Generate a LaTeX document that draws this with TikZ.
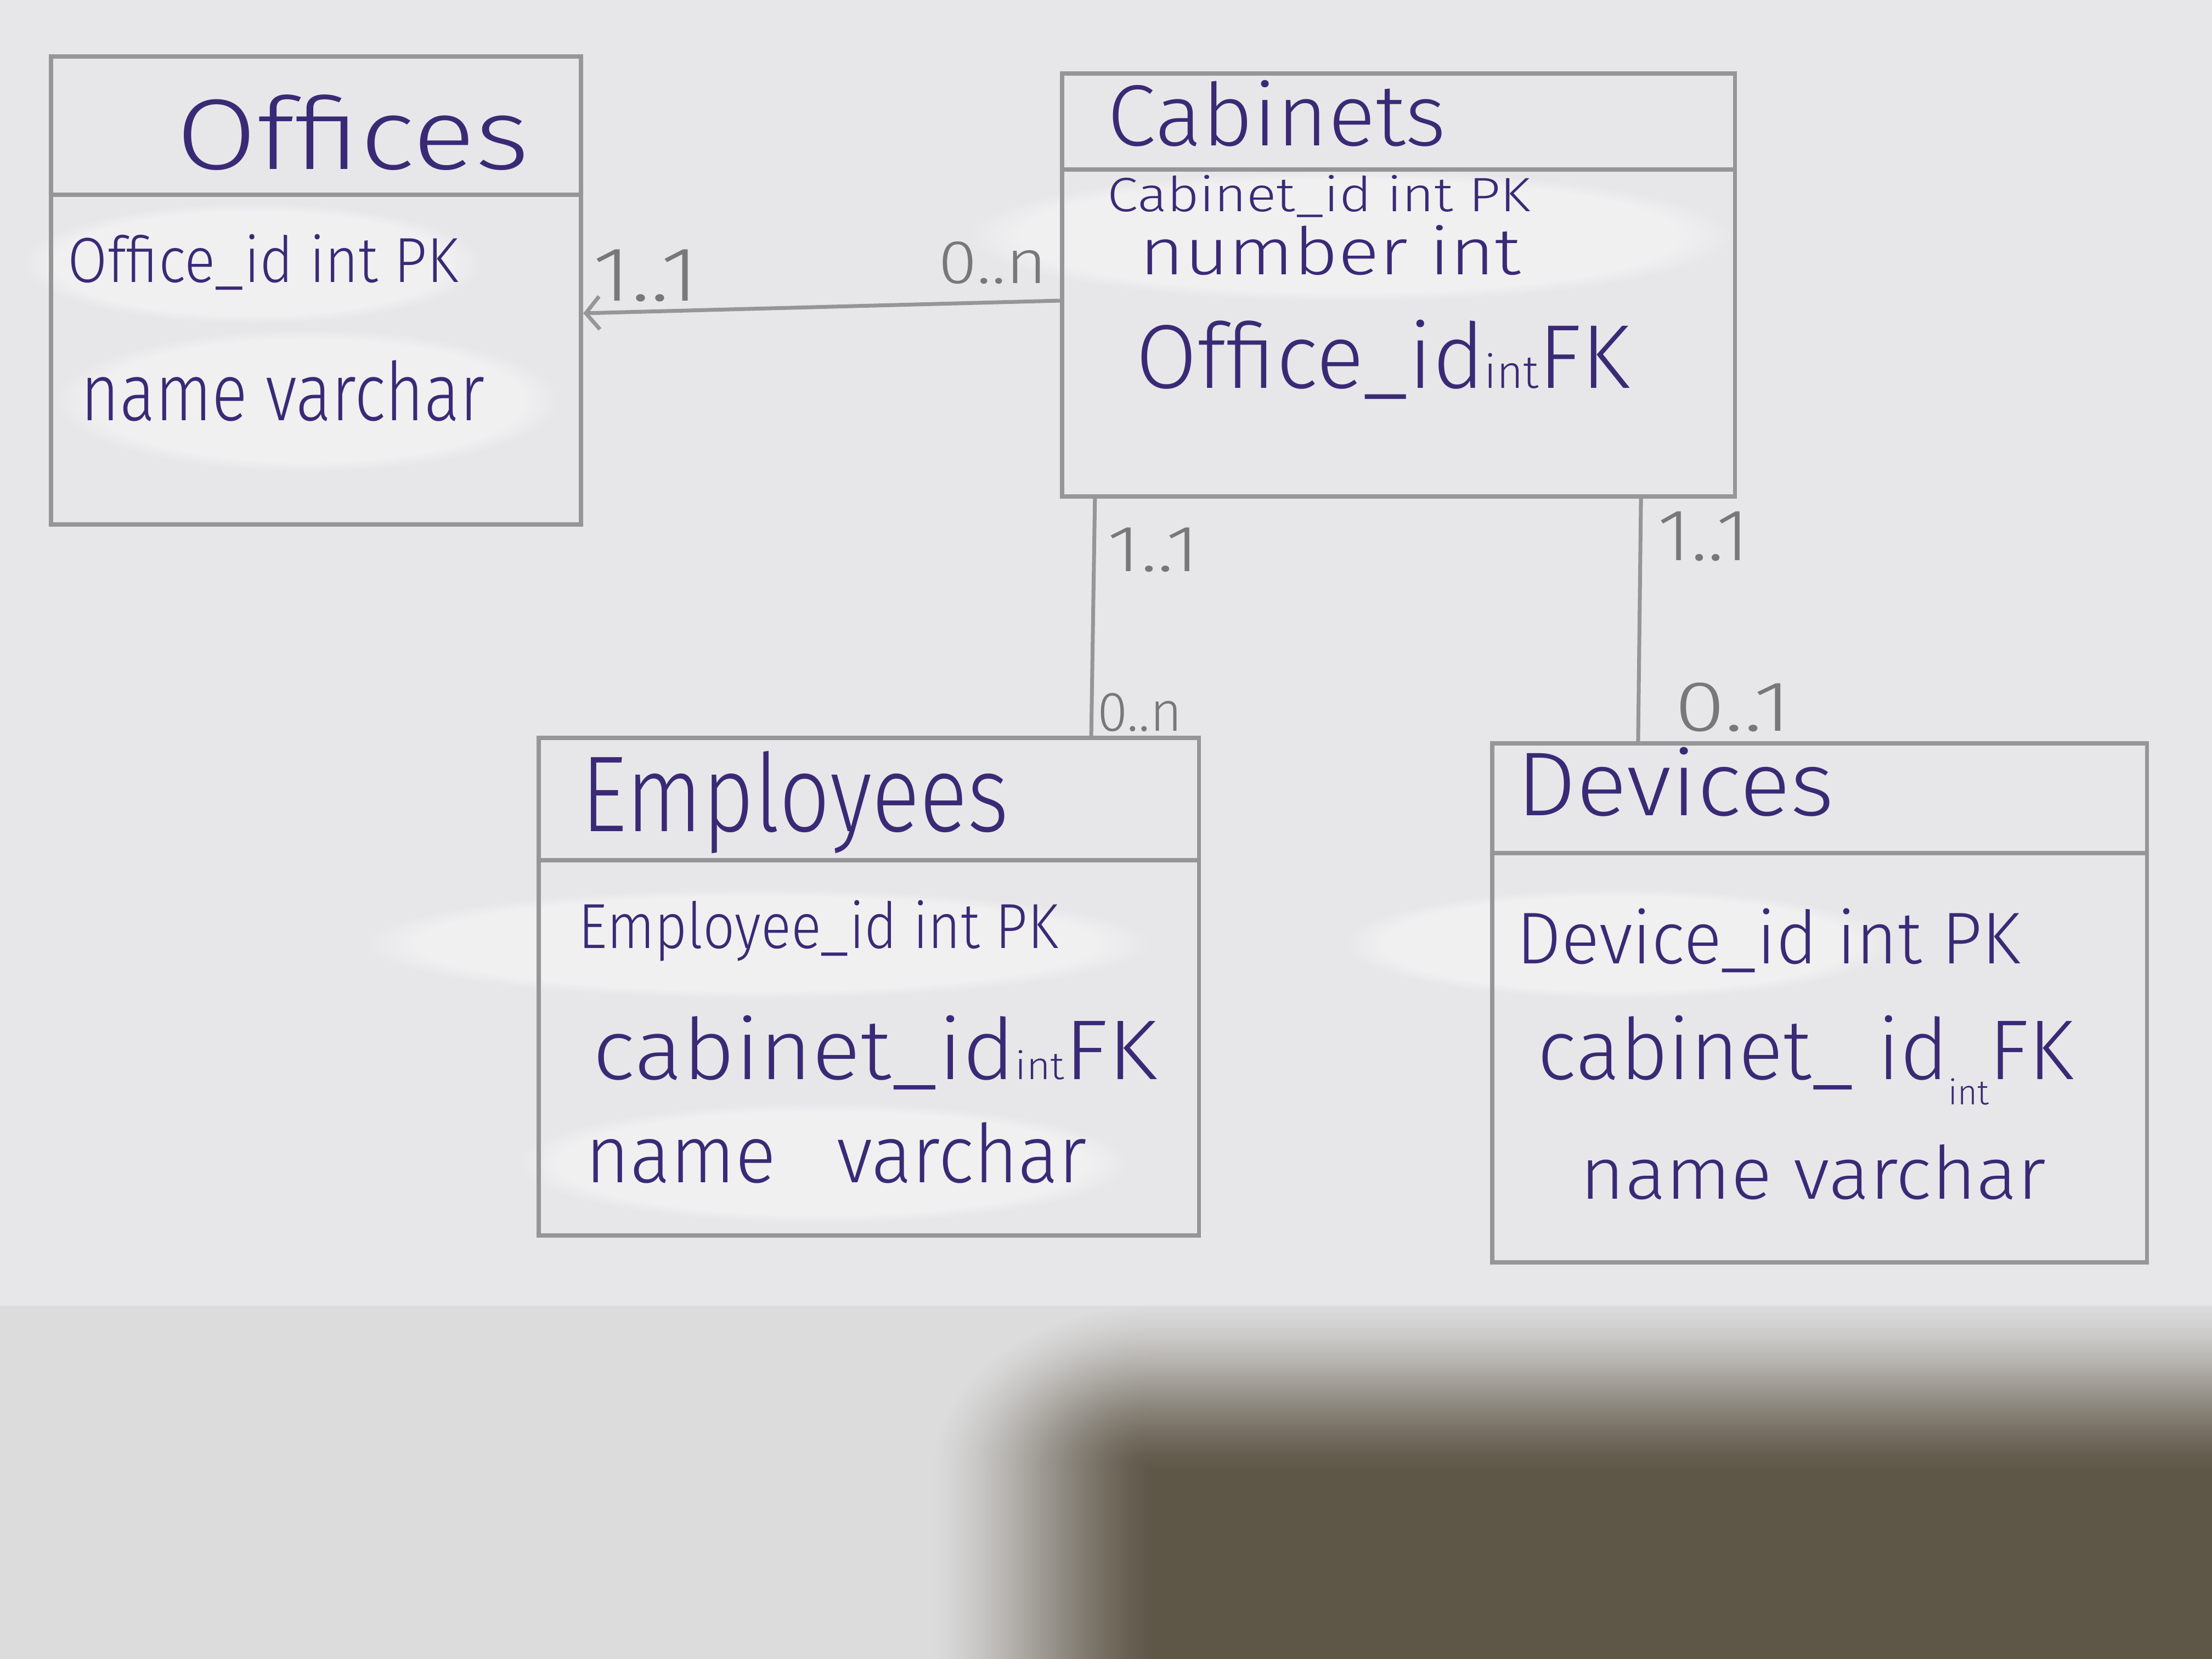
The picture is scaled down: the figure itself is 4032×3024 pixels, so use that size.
\documentclass[tikz,border=0pt]{standalone}
\usepackage{fontspec}
\setmainfont{Fira Sans}[UprightFont=* Light]
\usepackage{graphicx}
\usetikzlibrary{arrows.meta,fadings}

\definecolor{paper}{RGB}{231,231,233}
\definecolor{paperlow}{RGB}{220,220,221}
\definecolor{ink}{RGB}{58,42,118}
\definecolor{pencil}{RGB}{150,150,152}
\definecolor{shadebody}{RGB}{94,86,71}

% soft S-shaped ramps between the paper and the shadow
% (the part of a shading between 25bp and 75bp spans the shaded path)
\pgfdeclareverticalshading{softtop}{100bp}{%
  color(0bp)=(shadebody); color(25bp)=(shadebody);
  color(30bp)=(shadebody!93.6!paperlow); color(35bp)=(shadebody!84.8!paperlow);
  color(40bp)=(shadebody!74.2!paperlow); color(45bp)=(shadebody!62.4!paperlow);
  color(50bp)=(shadebody!50!paperlow);   color(55bp)=(shadebody!37.6!paperlow);
  color(60bp)=(shadebody!25.8!paperlow); color(65bp)=(shadebody!15.2!paperlow);
  color(70bp)=(shadebody!6.4!paperlow);  color(75bp)=(paperlow); color(100bp)=(paperlow)}
\pgfdeclarehorizontalshading{softleft}{100bp}{%
  color(0bp)=(paperlow); color(25bp)=(paperlow);
  color(30bp)=(shadebody!6.4!paperlow);  color(35bp)=(shadebody!15.2!paperlow);
  color(40bp)=(shadebody!25.8!paperlow); color(45bp)=(shadebody!37.6!paperlow);
  color(50bp)=(shadebody!50!paperlow);   color(55bp)=(shadebody!62.4!paperlow);
  color(60bp)=(shadebody!74.2!paperlow); color(65bp)=(shadebody!84.8!paperlow);
  color(70bp)=(shadebody!93.6!paperlow); color(75bp)=(shadebody); color(100bp)=(shadebody)}
\pgfdeclareradialshading{softcorner}{\pgfpoint{0bp}{0bp}}{%
  color(0bp)=(shadebody);
  color(2.5bp)=(shadebody!93.6!paperlow);  color(5bp)=(shadebody!84.8!paperlow);
  color(7.5bp)=(shadebody!74.2!paperlow);  color(10bp)=(shadebody!62.4!paperlow);
  color(12.5bp)=(shadebody!50!paperlow);   color(15bp)=(shadebody!37.6!paperlow);
  color(17.5bp)=(shadebody!25.8!paperlow); color(20bp)=(shadebody!15.2!paperlow);
  color(22.5bp)=(shadebody!6.4!paperlow);  color(25bp)=(paperlow); color(50bp)=(paperlow)}

% text at a given size, squeezed to a given width
\newcommand\hw[3]{\fontsize{#1}{#1}\selectfont\resizebox{#2}{\height}{#3}}
% small "int" written between words
\newcommand\minorint[1]{{\fontsize{#1}{#1}\selectfont int}}

\begin{document}
\begin{tikzpicture}[x=0.01cm,y=-0.01cm,
  entity/.style={draw=pencil, line width=2.2pt, rectangle, inner sep=0},
  rule/.style={draw=pencil, line width=2.2pt},
  conn/.style={draw=pencil, line width=2pt},
  inktext/.style={inner sep=0, anchor=base west, text=ink},
  mult/.style={inner sep=0, anchor=base west, text=pencil!80!black},
  whiteout/.style={fill=white, opacity=0.4, path fading=circle with fuzzy edge 15 percent}]

% paper
\fill[paper] (0,0) rectangle (4032,3024);
\useasboundingbox (0,0) rectangle (4032,3024);
\fill[paperlow] (0,2380) rectangle (4032,3024);

% shadow on the lower right, soft at its top and left
\fill[shadebody] (2095,2675) rectangle (4032,3024);
\shade[shading=softtop] (2100,2380) rectangle (4032,2680);
\shade[shading=softleft] (1700,2678) rectangle (2102,3024);
\begin{scope}
  \clip (1700,2380) rectangle (2101,2681);
  \shade[shading=softcorner] (2100,2680) ellipse [x radius=4.0cm, y radius=3.0cm];
\end{scope}

% correction-fluid patches behind the rows
\fill[whiteout] (460,480) ellipse [x radius=4.2cm, y radius=1.1cm];
\fill[whiteout] (560,730) ellipse [x radius=4.6cm, y radius=1.3cm];
\fill[whiteout] (2460,430) ellipse [x radius=7.0cm, y radius=1.2cm];
\fill[whiteout] (1380,1720) ellipse [x radius=7.2cm, y radius=1.0cm];
\fill[whiteout] (1500,2120) ellipse [x radius=5.6cm, y radius=1.1cm];
\fill[whiteout] (2950,1720) ellipse [x radius=5.0cm, y radius=1.0cm];

% entities
\node[entity, minimum width=9.66cm, minimum height=8.53cm] (off) at (576,529.5) {};
\draw[rule] (off.west |- 0,355) -- (off.east |- 0,355);

\node[entity, minimum width=12.26cm, minimum height=7.71cm] (cab) at (2549,519.5) {};
\draw[rule] (cab.west |- 0,309) -- (cab.east |- 0,309);

\node[entity, minimum width=12.03cm, minimum height=9.07cm] (emp) at (1583.5,1798.5) {};
\draw[rule] (emp.west |- 0,1568) -- (emp.east |- 0,1568);

\node[entity, minimum width=11.93cm, minimum height=9.46cm] (dev) at (3316.5,1828) {};
\draw[rule] (dev.west |- 0,1555) -- (dev.east |- 0,1555);

% relationships
\draw[conn, -{Straight Barb[length=0.25cm, width=0.6cm]}]
  ([yshift=-0.285cm]cab.west) -- ([yshift=-0.415cm]off.east);
\draw[conn] ([xshift=0.64cm]cab.south west) -- ([xshift=-2.0cm]emp.north east);
\draw[conn] ([xshift=-1.75cm]cab.south east) -- ([xshift=2.7cm]dev.north west);

% multiplicities
\node[mult] (m-off) at (1080,548) {\hw{40pt}{1.93cm}{1..1}};
\node[mult] (m-cab-off) at (1710,516) {\hw{32pt}{1.98cm}{0..n}};
\node[mult] (m-cab-emp) at (2018,1041) {\hw{34pt}{1.67cm}{1..1}};
\node[mult] (m-emp) at (2000,1332) {\hw{29pt}{1.54cm}{0..n}};
\node[mult] (m-cab-dev) at (3021,1021) {\hw{38pt}{1.67cm}{1..1}};
\node[mult] (m-dev) at (3052,1332) {\hw{37pt}{2.13cm}{0..1}};

% Offices
\node[inktext] (t-off) at (321,308) {\hw{52pt}{6.43cm}{Offices}};
\node[inktext] (a-off-1) at (123,514) {\hw{33pt}{7.12cm}{Office\_id int PK}};
\node[inktext] (a-off-2) at (147,766) {\hw{42pt}{7.35cm}{name varchar}};

% Cabinets
\node[inktext] (t-cab) at (2018,265) {\hw{45pt}{6.17cm}{Cabinets}};
\node[inktext] (a-cab-1) at (2018,385) {\hw{25pt}{7.71cm}{Cabinet\_id int PK}};
\node[inktext] (a-cab-2) at (2077,500) {\hw{34pt}{6.94cm}{number int}};
\node[inktext] (a-cab-3) at (2070,707) {\hw{47pt}{9.0cm}{Office\_id\minorint{24pt}FK}};

% Employees
\node[inktext] (t-emp) at (1059,1515) {\hw{56pt}{7.79cm}{Employees}};
\node[inktext] (a-emp-1) at (1054,1728) {\hw{33pt}{8.74cm}{Employee\_id int PK}};
\node[inktext] (a-emp-2) at (1080,1967) {\hw{44pt}{10.28cm}{cabinet\_id\minorint{20pt}FK}};
\node[inktext] (a-emp-3) at (1067,2155) {\hw{42pt}{9.13cm}{name\hspace{0.8em}varchar}};

% Devices
\node[inktext] (t-dev) at (2764,1486) {\hw{47pt}{5.78cm}{Devices}};
\node[inktext] (a-dev-1) at (2764,1756) {\hw{38pt}{9.18cm}{Device\_id int PK}};
\node[inktext] (a-dev-2) at (2802,1967) {\hw{44pt}{9.77cm}{cabinet\_ id\raisebox{-0.3em}{\minorint{18pt}}FK}};
\node[inktext] (a-dev-3) at (2880,2185) {\hw{38pt}{8.48cm}{name varchar}};
\end{tikzpicture}
\end{document}
